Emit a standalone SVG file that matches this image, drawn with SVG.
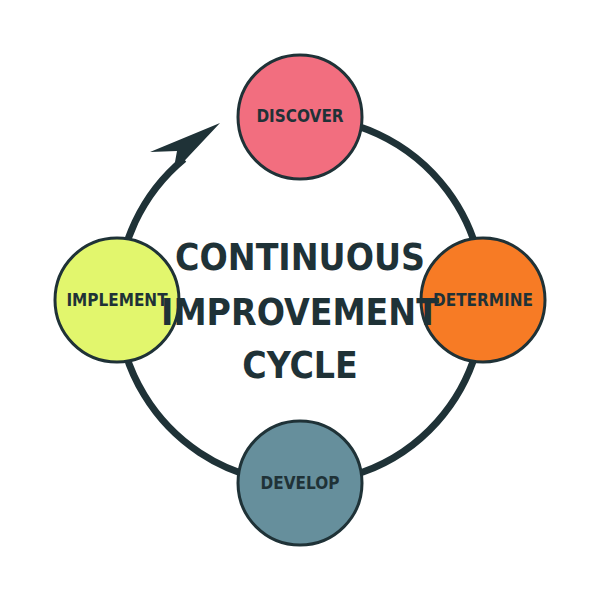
<svg xmlns="http://www.w3.org/2000/svg" width="600" height="600" viewBox="0 0 600 600">
<style>
.n{stroke:#1f3237;stroke-width:3}
.l{font-family:"DejaVu Sans Condensed","DejaVu Sans",sans-serif;font-weight:bold;font-size:17px;fill:#1f3237;text-anchor:middle;dominant-baseline:central}
.t{font-family:"DejaVu Sans Condensed","DejaVu Sans",sans-serif;font-weight:bold;font-size:37px;fill:#1f3237;text-anchor:middle}
</style>
<rect width="600" height="600" fill="#fff"/>
<g id="connectors">
<path d="M300,117 A183,183 0 1 1 184,159" fill="none" stroke="#1f3237" stroke-width="7"/>
<polygon points="220,123 150,152 177,151 173,173" fill="#1f3237"/>
</g>
<g id="discover"><circle class="n" cx="300" cy="117" r="62" fill="#f26e7f"/><text class="l" x="300" y="116">DISCOVER</text></g>
<g id="determine"><circle class="n" cx="483" cy="300" r="62" fill="#f77b25"/><text class="l" x="483" y="300">DETERMINE</text></g>
<g id="develop"><circle class="n" cx="300" cy="483" r="62" fill="#668f9c"/><text class="l" x="300" y="483">DEVELOP</text></g>
<g id="implement"><circle class="n" cx="117" cy="300" r="62" fill="#e2f66d"/><text class="l" x="117" y="300">IMPLEMENT</text></g>
<g id="title"><text class="t" x="300" y="270">CONTINUOUS</text><text class="t" x="300" y="325">IMPROVEMENT</text><text class="t" x="300" y="378">CYCLE</text></g>
</svg>
